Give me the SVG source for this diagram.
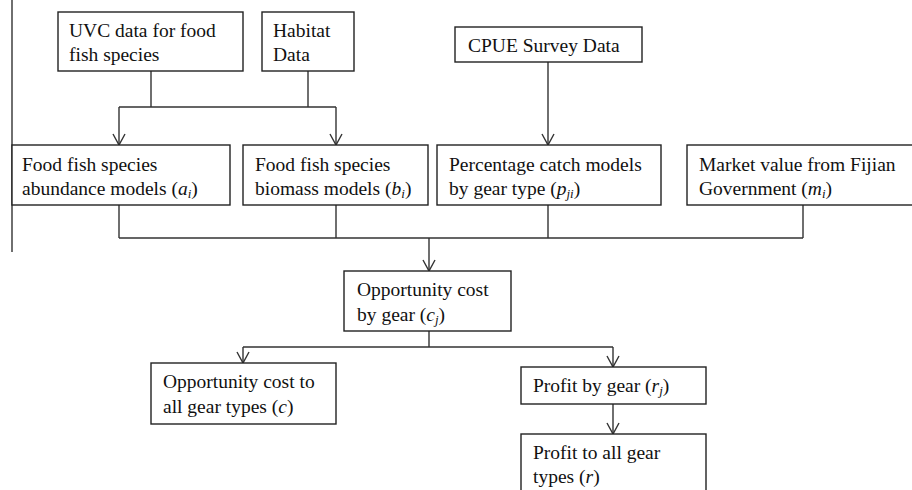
<svg xmlns="http://www.w3.org/2000/svg" width="912" height="490" viewBox="0 0 912 490">
<style>
.box{fill:#fff;stroke:#222;stroke-width:1.4}
.t{font-family:"Liberation Serif","Times New Roman",serif;font-size:19.5px;fill:#111}
.i{font-style:italic}
.s{font-size:13px}
.c{fill:none;stroke:#333;stroke-width:1.4}
</style>
<defs>
<marker id="ah" markerUnits="userSpaceOnUse" markerWidth="14" markerHeight="14" viewBox="0 0 14 14" refX="12" refY="7" orient="auto">
<path d="M1,1 L12,7 L1,13" fill="none" stroke="#333" stroke-width="1.4"/>
</marker>
</defs>
<rect width="912" height="490" fill="#fff"/>
<line x1="12" y1="0" x2="12" y2="252" class="c"/>
<g id="connectors">
<path class="c" d="M151,71 V107 M308,71 V107 M119,107 H336"/>
<path class="c" d="M119,107 V145" marker-end="url(#ah)"/>
<path class="c" d="M336,107 V145" marker-end="url(#ah)"/>
<path class="c" d="M548,62 V145" marker-end="url(#ah)"/>
<path class="c" d="M119,205 V238 M336,205 V238 M548,205 V238 M803,205 V238 M119,238 H803"/>
<path class="c" d="M429,238 V271" marker-end="url(#ah)"/>
<path class="c" d="M429,331 V347 M243,347 H613"/>
<path class="c" d="M243,347 V363" marker-end="url(#ah)"/>
<path class="c" d="M613,347 V367" marker-end="url(#ah)"/>
<path class="c" d="M613,404 V434" marker-end="url(#ah)"/>
</g>
<g id="uvc">
<rect class="box" x="58" y="12" width="185" height="59"/>
<text class="t" x="69" y="37">UVC data for food</text>
<text class="t" x="69" y="61">fish species</text>
</g>
<g id="habitat">
<rect class="box" x="262" y="12" width="92" height="59"/>
<text class="t" x="273" y="37">Habitat</text>
<text class="t" x="273" y="61">Data</text>
</g>
<g id="cpue">
<rect class="box" x="455" y="27" width="187" height="35"/>
<text class="t" x="468" y="52">CPUE Survey Data</text>
</g>
<g id="abundance">
<rect class="box" x="12" y="145" width="218" height="60"/>
<text class="t" x="22" y="171">Food fish species</text>
<text class="t" x="22" y="195">abundance models  (<tspan class="i">a</tspan><tspan class="i s" dy="3">i</tspan><tspan dy="-3">)</tspan></text>
</g>
<g id="biomass">
<rect class="box" x="243" y="145" width="185" height="60"/>
<text class="t" x="255" y="171">Food fish species</text>
<text class="t" x="255" y="195">biomass models (<tspan class="i">b</tspan><tspan class="i s" dy="3">i</tspan><tspan dy="-3">)</tspan></text>
</g>
<g id="percentage">
<rect class="box" x="437" y="145" width="224" height="60"/>
<text class="t" x="449" y="171">Percentage catch models</text>
<text class="t" x="449" y="195">by gear type (<tspan class="i">p</tspan><tspan class="i s" dy="3">ji</tspan><tspan dy="-3">)</tspan></text>
</g>
<g id="market">
<rect class="box" x="687" y="145" width="230" height="60"/>
<text class="t" x="699" y="171">Market value from Fijian</text>
<text class="t" x="699" y="195">Government (<tspan class="i">m</tspan><tspan class="i s" dy="3">i</tspan><tspan dy="-3">)</tspan></text>
</g>
<g id="oppgear">
<rect class="box" x="344" y="271" width="167" height="60"/>
<text class="t" x="357" y="296">Opportunity cost</text>
<text class="t" x="357" y="321">by gear (<tspan class="i">c</tspan><tspan class="i s" dy="3">j</tspan><tspan dy="-3">)</tspan></text>
</g>
<g id="oppall">
<rect class="box" x="151" y="363" width="185" height="61"/>
<text class="t" x="163" y="388">Opportunity cost to</text>
<text class="t" x="163" y="413">all gear types (<tspan class="i">c</tspan>)</text>
</g>
<g id="profitgear">
<rect class="box" x="521" y="367" width="185" height="37"/>
<text class="t" x="533" y="392">Profit by gear (<tspan class="i">r</tspan><tspan class="i s" dy="3">j</tspan><tspan dy="-3">)</tspan></text>
</g>
<g id="profitall">
<rect class="box" x="521" y="434" width="185" height="70"/>
<text class="t" x="533" y="459">Profit to all gear</text>
<text class="t" x="533" y="483">types (<tspan class="i">r</tspan>)</text>
</g>
</svg>
